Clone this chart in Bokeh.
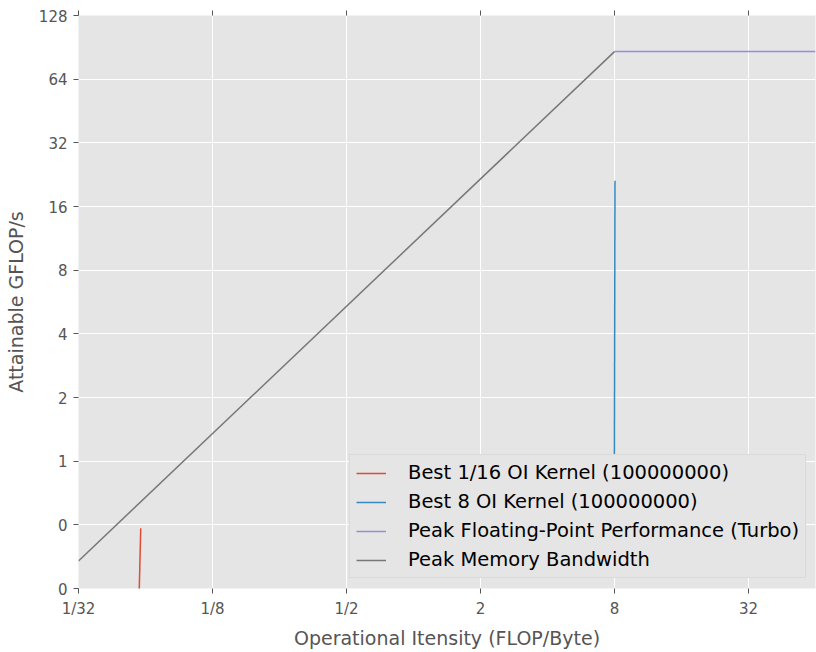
from bokeh.plotting import figure
from bokeh.models import FixedTicker, LogAxis, Range1d, Legend, LegendItem
from bokeh.embed import file_html
from bokeh.resources import INLINE

# ---- data ----
kernel_116_oi = [0.0583, 0.0595]
kernel_116_gflops = [0.2, 0.482]
kernel_8_oi = [7.98, 8.04]
kernel_8_gflops = [0.5, 21.2]
peak_flops = 86.4          # GFLOP/s (Turbo)
peak_bw = 10.8             # GB/s
ridge_oi = peak_flops / peak_bw
x_min, x_max = 1 / 32, 64
y_min, y_max = 0.25, 128
mem_oi = [x_min, ridge_oi]
mem_gflops = [peak_bw * x_min, peak_bw * ridge_oi]
fp_oi = [ridge_oi, x_max]
fp_gflops = [peak_flops, peak_flops]

x_ticks = [1 / 32, 1 / 8, 1 / 2, 2, 8, 32]
x_tick_labels = ["1/32", "1/8", "1/2", "2", "8", "32"]
y_ticks = [0.25, 0.5, 1, 2, 4, 8, 16, 32, 64, 128]
y_tick_labels = ["0", "0", "1", "2", "4", "8", "16", "32", "64", "128"]

labels = ["Best 1/16 OI Kernel (100000000)",
          "Best 8 OI Kernel (100000000)",
          "Peak Floating-Point Performance (Turbo)",
          "Peak Memory Bandwidth"]
colors = ["#E24A33", "#348ABD", "#988ED5", "#777777"]

FONT = "DejaVu Sans"

p = figure(width=816, height=652, x_axis_type="log", y_axis_type="log",
           x_range=Range1d(x_min, x_max), y_range=Range1d(y_min, y_max),
           output_backend="svg", toolbar_location=None,
           min_border_left=78, min_border_right=1, min_border_top=15,
           min_border_bottom=64)

p.background_fill_color = "#E5E5E5"
p.border_fill_color = "white"
p.outline_line_color = None

r1 = p.line(kernel_116_oi, kernel_116_gflops, line_color=colors[0], line_width=1.5)
r2 = p.line(kernel_8_oi, kernel_8_gflops, line_color=colors[1], line_width=1.5)
r3 = p.line(fp_oi, fp_gflops, line_color=colors[2], line_width=1.5)
r4 = p.line(mem_oi, mem_gflops, line_color=colors[3], line_width=1.5)

xa = p.xaxis[0]
ya = p.yaxis[0]
xa.ticker = FixedTicker(ticks=x_ticks)
ya.ticker = FixedTicker(ticks=y_ticks)
xa.major_label_overrides = {t: l for t, l in zip(x_ticks, x_tick_labels)}
ya.major_label_overrides = {t: l for t, l in zip(y_ticks, y_tick_labels)}
for ax in (xa, ya):
    ax.axis_line_color = None
    ax.major_tick_line_color = "#555555"
    ax.major_tick_out = 5
    ax.major_tick_in = 0
    ax.minor_tick_line_color = None
    ax.major_label_text_font = FONT
    ax.major_label_text_font_size = "15px"
    ax.major_label_text_color = "#555555"
    ax.axis_label_text_font = FONT
    ax.axis_label_text_font_size = "19px"
    ax.axis_label_text_font_style = "normal"
    ax.axis_label_text_color = "#555555"
xa.axis_label = "Operational Itensity (FLOP/Byte)"
ya.axis_label = "Attainable GFLOP/s"
xa.major_label_standoff = 6
ya.major_label_standoff = 6
xa.axis_label_standoff = 6
ya.axis_label_standoff = 9

top = LogAxis(ticker=FixedTicker(ticks=x_ticks), axis_line_color=None,
              major_tick_line_color="#555555", major_tick_out=5, major_tick_in=0,
              minor_tick_line_color=None, major_label_text_font_size="1px",
              major_label_text_color=None, major_label_standoff=0)
p.add_layout(top, "above")

p.grid.grid_line_color = "white"
p.grid.grid_line_width = 1
p.xgrid.ticker = FixedTicker(ticks=x_ticks)
p.ygrid.ticker = FixedTicker(ticks=y_ticks)

legend = Legend(items=[LegendItem(label=l, renderers=[r]) for l, r in zip(labels, [r1, r2, r3, r4])],
                location=(271, 10))
legend.background_fill_color = "#E5E5E5"
legend.background_fill_alpha = 1
legend.border_line_color = "#D0D0D0"
legend.label_text_font = FONT
legend.label_text_font_size = "19.5px"
legend.label_text_color = "black"
legend.glyph_width = 30
legend.label_standoff = 22
legend.padding = 6
legend.spacing = 6
legend.label_height = 18
legend.glyph_height = 18
p.add_layout(legend, "center")

open("out.html", "w").write(file_html(p, INLINE))
